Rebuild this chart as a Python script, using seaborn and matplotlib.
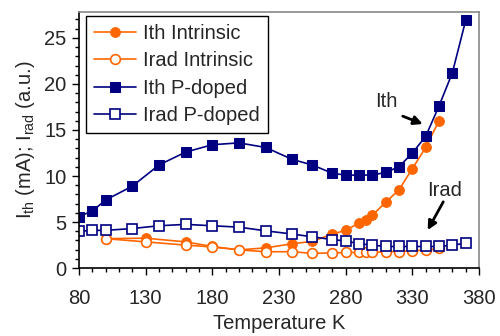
import numpy as np
import pandas as pd
import matplotlib
matplotlib.use("Agg")
import matplotlib.pyplot as plt
import seaborn as sns

# Ith, P-doped (filled squares)
t_ith_p = [80, 90, 100, 120, 140, 160, 180, 200, 220, 240, 255, 270, 280, 290, 300, 310, 320, 330, 340, 350, 360, 370]
ith_p = [5.6, 6.2, 7.4, 8.9, 11.2, 12.6, 13.4, 13.6, 13.1, 11.8, 11.2, 10.3, 10.1, 10.1, 10.1, 10.4, 11.0, 12.5, 14.3, 17.6, 21.2, 26.9]

# Irad, P-doped (open squares)
t_irad_p = [80, 90, 100, 120, 140, 160, 180, 200, 220, 240, 255, 270, 280, 290, 300, 310, 320, 330, 340, 350, 360, 370]
irad_p = [4.0, 4.1, 4.1, 4.3, 4.6, 4.75, 4.6, 4.45, 4.05, 3.7, 3.4, 3.1, 2.95, 2.65, 2.5, 2.35, 2.35, 2.35, 2.35, 2.35, 2.5, 2.7]

# Ith, intrinsic (filled circles)
t_ith_i = [100, 130, 160, 180, 200, 220, 240, 255, 270, 280, 290, 295, 300, 310, 320, 330, 340, 350]
ith_i = [3.2, 3.25, 2.85, 2.35, 1.98, 2.2, 2.65, 2.9, 3.7, 4.1, 4.9, 5.2, 5.75, 7.15, 8.5, 10.8, 13.1, 16.0]

# Irad, intrinsic (open circles)
t_irad_i = [100, 130, 160, 180, 200, 220, 240, 255, 270, 280, 290, 295, 300, 310, 320, 330, 340, 350]
irad_i = [3.2, 2.85, 2.5, 2.3, 1.98, 1.78, 1.78, 1.6, 1.65, 1.7, 1.7, 1.7, 1.7, 1.8, 1.8, 1.9, 1.95, 2.15]

x_major = [80, 130, 180, 230, 280, 330, 380]
y_major = [0, 5, 10, 15, 20, 25]

orange = "#ff6600"
navy = "#000080"
fs = 14.5

sns.set_style("ticks")
plt.rcParams["font.family"] = ["Liberation Sans", "DejaVu Sans"]
plt.rcParams["mathtext.fontset"] = "custom"
plt.rcParams["mathtext.rm"] = "Liberation Sans"

fig = plt.figure(figsize=(5, 3.36), dpi=100)
ax = fig.add_axes([0.158, 0.202, 0.8, 0.762])

ms = 7
lw = 1.2
sns.lineplot(x=t_ith_i, y=ith_i, ax=ax, color=orange, lw=lw, marker="o", ms=ms,
             mec=orange, mfc=orange, label="Ith Intrinsic")
sns.lineplot(x=t_irad_i, y=irad_i, ax=ax, color=orange, lw=lw, marker="o", ms=ms,
             mec=orange, mfc="white", mew=1.2, label="Irad Intrinsic")
sns.lineplot(x=t_ith_p, y=ith_p, ax=ax, color=navy, lw=lw, marker="s", ms=ms - 0.5,
             mec=navy, mfc=navy, label="Ith P-doped")
sns.lineplot(x=t_irad_p, y=irad_p, ax=ax, color=navy, lw=lw, marker="s", ms=ms - 0.5,
             mec=navy, mfc="white", mew=1.2, label="Irad P-doped")

ax.set_xlim(80, 380)
ax.set_ylim(0, 27.8)
ax.set_xticks(x_major)
ax.set_xticks(np.arange(80, 381, 10), minor=True)
ax.set_yticks(y_major)
ax.set_yticks(np.arange(0, 28, 1), minor=True)
ax.tick_params(which="major", direction="out", length=5, width=1, color="black",
               labelsize=fs, pad=4)
ax.tick_params(which="minor", direction="out", length=3, width=1, color="black")
ax.tick_params(axis="x", pad=10)

for s in ["left", "bottom"]:
    ax.spines[s].set_color("black")
    ax.spines[s].set_linewidth(1.2)
for s in ["top", "right"]:
    ax.spines[s].set_visible(True)
    ax.spines[s].set_color("#888888")
    ax.spines[s].set_linewidth(1.2)

ax.set_xlabel("Temperature K", fontsize=fs, labelpad=4)
ax.set_ylabel(r"I$_{\mathrm{th}}$ (mA); I$_{\mathrm{rad}}$ (a.u.)", fontsize=fs, labelpad=5)

leg = ax.legend(loc="upper left", bbox_to_anchor=(0.0175, 0.985), fontsize=fs,
                frameon=True, fancybox=False, edgecolor="black", framealpha=1,
                handlelength=2.1, borderpad=0.4, labelspacing=0.42, handletextpad=0.35,
                borderaxespad=0)
leg.get_frame().set_linewidth(1.0)

# annotations
ax.annotate("", xy=(337.8, 15.65), xytext=(322.8, 16.5),
            arrowprops=dict(arrowstyle="-|>", color="black", lw=2, mutation_scale=13,
                            shrinkA=0, shrinkB=0))
ax.text(310.8, 18.1, "Ith", fontsize=fs, ha="center", va="center")
ax.annotate("", xy=(341.5, 4.13), xytext=(353.2, 7.2),
            arrowprops=dict(arrowstyle="-|>", color="black", lw=2, mutation_scale=13,
                            shrinkA=0, shrinkB=0))
ax.text(354.5, 8.4, "Irad", fontsize=fs, ha="center", va="center")

fig.savefig("out.png", dpi=100)
